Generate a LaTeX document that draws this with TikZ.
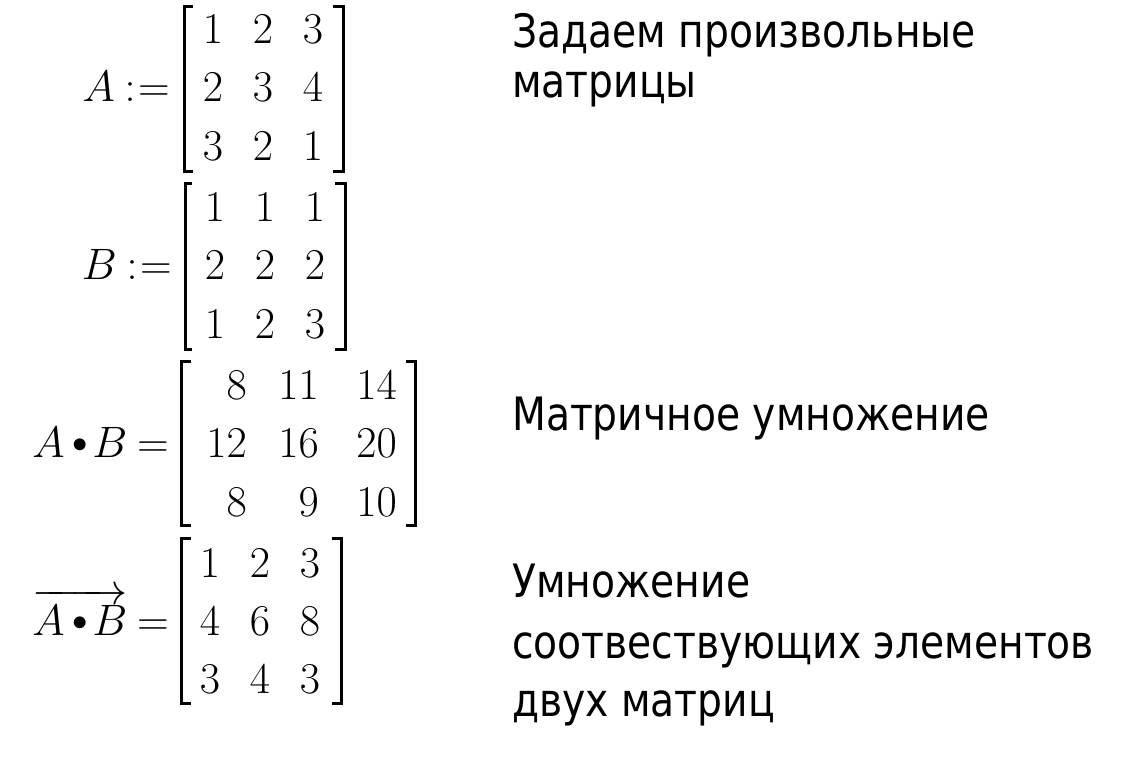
\RequirePackage{fix-cm}
\documentclass[tikz,border=0pt]{standalone}
\usepackage{amsmath}
\usepackage{fontspec}
\newfontfamily\txtfont[FakeStretch=0.853]{DejaVu Sans}
\tikzset{
  x=1pt, y=-1pt,
  ent/.style={anchor=base, inner sep=0pt, font=\fontsize{44}{52}\selectfont},
  entr/.style={ent, anchor=base east},
  lbl/.style={anchor=base east, inner sep=0pt, font=\fontsize{44}{52}\selectfont},
  txt/.style={anchor=base west, inner sep=0pt, font=\txtfont\fontsize{46}{55}\selectfont},
  brk/.style={line width=3pt, line join=miter, line cap=butt}
}
\newcommand\mybul{\mkern3mu{\vcenter{\hbox{$\scriptstyle\bullet$}}}\mkern2mu}
\newcommand\myeq{\mkern4mu{=}}
\newcommand\mydef{\mkern4mu{:}\mkern1mu{=}}
\begin{document}
\begin{tikzpicture}
\useasboundingbox (0,0) rectangle (1128,776);
% A
\node[lbl] (la) at (170,102) {$A\mydef$};
\draw[brk] (193,6.5) -- (184.5,6.5) -- (184.5,171.5) -- (193,171.5);
\draw[brk] (333,6.5) -- (343,6.5) -- (343,171.5) -- (333,171.5);
\node[ent] (a11) at (213,44) {$1$};
\node[ent] (a12) at (263,44) {$2$};
\node[ent] (a13) at (313,44) {$3$};
\node[ent] (a21) at (213,102) {$2$};
\node[ent] (a22) at (263,102) {$3$};
\node[ent] (a23) at (313,102) {$4$};
\node[ent] (a31) at (213,160) {$3$};
\node[ent] (a32) at (263,160) {$2$};
\node[ent] (a33) at (313,160) {$1$};
% B
\node[lbl] (lb) at (172,279) {$B\mydef$};
\draw[brk] (192,183.5) -- (185,183.5) -- (185,349.5) -- (192,349.5);
\draw[brk] (335,183.5) -- (345,183.5) -- (345,349.5) -- (335,349.5);
\node[ent] (b11) at (215,221) {$1$};
\node[ent] (b12) at (265,221) {$1$};
\node[ent] (b13) at (315,221) {$1$};
\node[ent] (b21) at (215,279) {$2$};
\node[ent] (b22) at (265,279) {$2$};
\node[ent] (b23) at (315,279) {$2$};
\node[ent] (b31) at (215,338) {$1$};
\node[ent] (b32) at (265,338) {$2$};
\node[ent] (b33) at (315,338) {$3$};
% A.B
\node[lbl] (lab) at (169,457) {$A\mybul B\myeq$};
\draw[brk] (191,361.5) -- (181.5,361.5) -- (181.5,525.5) -- (191,525.5);
\draw[brk] (406,361.5) -- (415,361.5) -- (415,525.5) -- (406,525.5);
\node[entr] (c11) at (247,399) {$8$};
\node[entr] (c12) at (319,399) {$11$};
\node[entr] (c13) at (397,399) {$14$};
\node[entr] (c21) at (247,457) {$12$};
\node[entr] (c22) at (319,457) {$16$};
\node[entr] (c23) at (397,457) {$20$};
\node[entr] (c31) at (247,516) {$8$};
\node[entr] (c32) at (319,516) {$9$};
\node[entr] (c33) at (397,516) {$10$};
% vectorized
\node[lbl] (lv) at (169,635) {$\overrightarrow{A\mybul B}\myeq$};
\draw[brk] (191,538.5) -- (181.5,538.5) -- (181.5,703.5) -- (191,703.5);
\draw[brk] (332,538.5) -- (341,538.5) -- (341,703.5) -- (332,703.5);
\node[ent] (d11) at (210,577) {$1$};
\node[ent] (d12) at (260,577) {$2$};
\node[ent] (d13) at (310,577) {$3$};
\node[ent] (d21) at (210,635) {$4$};
\node[ent] (d22) at (260,635) {$6$};
\node[ent] (d23) at (310,635) {$8$};
\node[ent] (d31) at (210,693) {$3$};
\node[ent] (d32) at (260,693) {$4$};
\node[ent] (d33) at (310,693) {$3$};
% texts
\node[txt] (t1) at (512,48) {Задаем произвольные};
\node[txt] (t2) at (512,97) {матрицы};
\node[txt] (t3) at (512,430) {Матричное умножение};
\node[txt] (t4) at (512,597) {Умножение};
\node[txt] (t5) at (512,658) {соотвествующих элементов};
\node[txt] (t6) at (512,716) {двух матриц};
\end{tikzpicture}
\end{document}
